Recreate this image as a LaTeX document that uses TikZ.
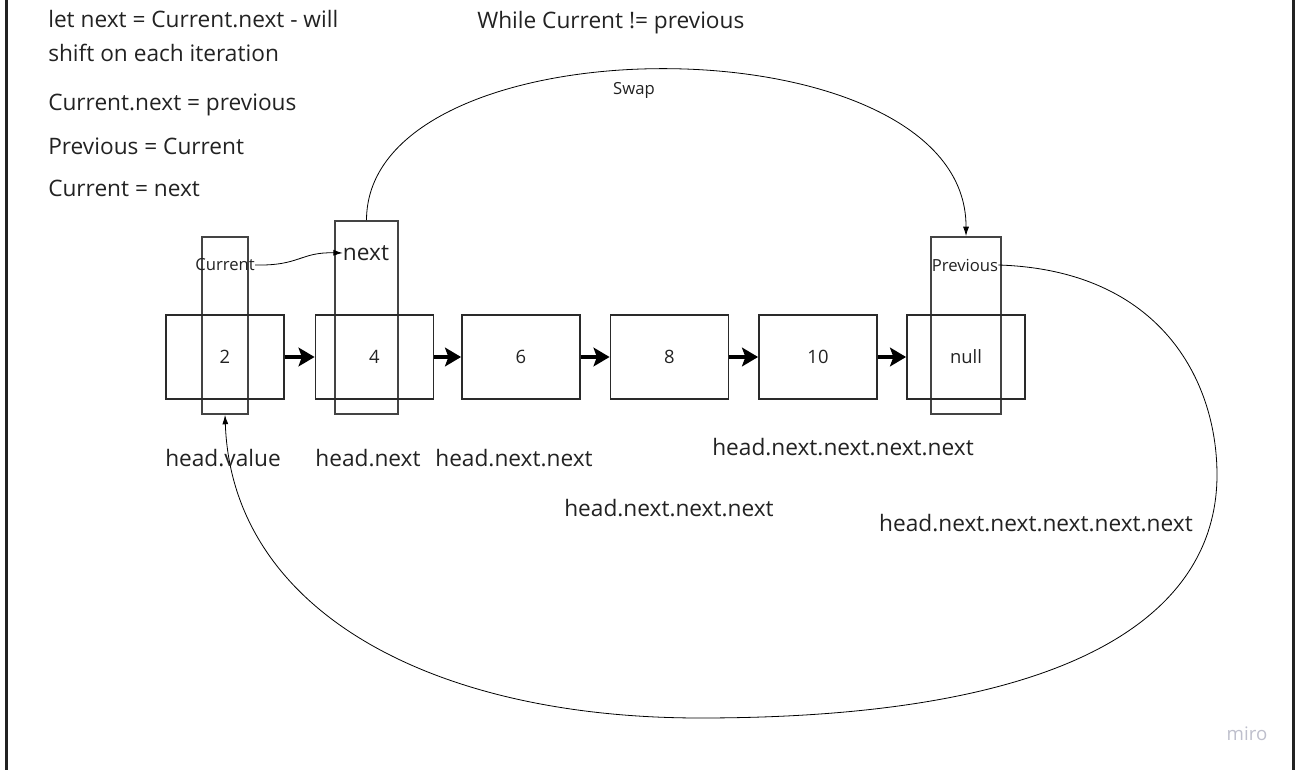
\documentclass[tikz,border=0pt]{standalone}
\usepackage{fontspec}
\setmainfont{Open Sans}
\usetikzlibrary{arrows.meta}
\definecolor{ink}{HTML}{222222}
\definecolor{boxline}{HTML}{2A2A2A}
\definecolor{tallline}{HTML}{444444}
\definecolor{mirogray}{HTML}{BEBFCC}
\tikzset{
  mainbox/.style={draw=boxline, line width=1.4pt, minimum width=88.5pt, minimum height=63pt, inner sep=0pt, font=\fontsize{13.8}{16}\selectfont, text=ink},
  tallbox/.style={draw=tallline, line width=1.4pt, inner sep=0pt},
  bigtxt/.style={font=\fontsize{17}{24}\selectfont, text=ink, inner sep=0pt},
  smalltxt/.style={font=\fontsize{12.5}{15}\selectfont, text=ink, inner sep=0pt},
  thickarr/.style={draw=black, line width=3pt, -{Stealth[length=12pt,width=14pt,inset=2.5pt]}},
  thinarr/.style={draw=black, line width=0.6pt, -{Latex[length=7pt,width=4.5pt]}},
}
\begin{document}
\begin{tikzpicture}[x=0.75pt,y=-0.75pt]
\useasboundingbox (0,0) rectangle (1297,770);
% frame lines
\draw[line width=1.6pt, draw=ink] (6.5,0) -- (6.5,770);
\draw[line width=1.6pt, draw=ink] (1293.5,0) -- (1293.5,770);

% top texts
\node[bigtxt, anchor=north west, align=left, font=\fontsize{17}{25.5}\selectfont] (t1) at (48,10) {let next = Current.next - will\\shift on each iteration};
\node[bigtxt, anchor=west] (t2) at (48,105) {Current.next = previous};
\node[bigtxt, anchor=west] (t3) at (48,146) {Previous = Current};
\node[bigtxt, anchor=west] (t4) at (48,188) {Current = next};
\node[bigtxt, anchor=west] (t5) at (477,23) {While Current != previous};

% tall boxes
\node[tallbox, minimum width=34.5pt, minimum height=132.75pt] (cur) at (225,325.5) {};
\node[tallbox, minimum width=47.25pt, minimum height=144.75pt] (nxt) at (366.5,317.5) {};
\node[tallbox, minimum width=52.5pt, minimum height=132.75pt] (prv) at (966,325.5) {};

% main boxes
\node[mainbox] (b1) at (225,357) {2};
\node[mainbox] (b2) at (374.5,357) {4};
\node[mainbox] (b3) at (521,357) {6};
\node[mainbox] (b4) at (669.5,357) {8};
\node[mainbox] (b5) at (818,357) {10};
\node[mainbox] (b6) at (966,357) {null};

% labels inside tall boxes
\node[smalltxt] (curlbl) at (225,265) {Current};
\node[bigtxt] (nextlbl) at (366,253) {next};
\node[smalltxt] (prvlbl) at (965,265) {Previous};

% thick arrows
\draw[thickarr] (b1.east) -- (b2.west);
\draw[thickarr] (b2.east) -- (b3.west);
\draw[thickarr] (b3.east) -- (b4.west);
\draw[thickarr] (b4.east) -- (b5.west);
\draw[thickarr] (b5.east) -- (b6.west);

% Current -> next
\draw[thinarr] (curlbl.east) .. controls (300,266) and (300,252) .. (nextlbl.west);

% Swap arc
\draw[thinarr] (nxt.north) .. controls (367,17) and (967,17) .. (prv.north);
\node[smalltxt] (swap) at (634,90) {Swap};

% big loop back
\draw[thinarr] (prvlbl.east) .. controls (1160,270) and (1217,380) .. (1217,475)
   .. controls (1217,600) and (1100,718) .. (700,718)
   .. controls (430,718) and (232,610) .. (cur.south);

% lower labels
\node[bigtxt] (l1) at (223,458) {head.value};
\node[bigtxt] (l2) at (368,458) {head.next};
\node[bigtxt] (l3) at (514,458) {head.next.next};
\node[bigtxt] (l4) at (843,447) {head.next.next.next.next};
\node[bigtxt] (l5) at (669,508) {head.next.next.next};
\node[bigtxt] (l6) at (1036,523) {head.next.next.next.next.next};

% watermark
\node[font=\fontsize{14}{16}\selectfont, text=mirogray, inner sep=0pt] (miro) at (1247,734) {miro};
\end{tikzpicture}
\end{document}
